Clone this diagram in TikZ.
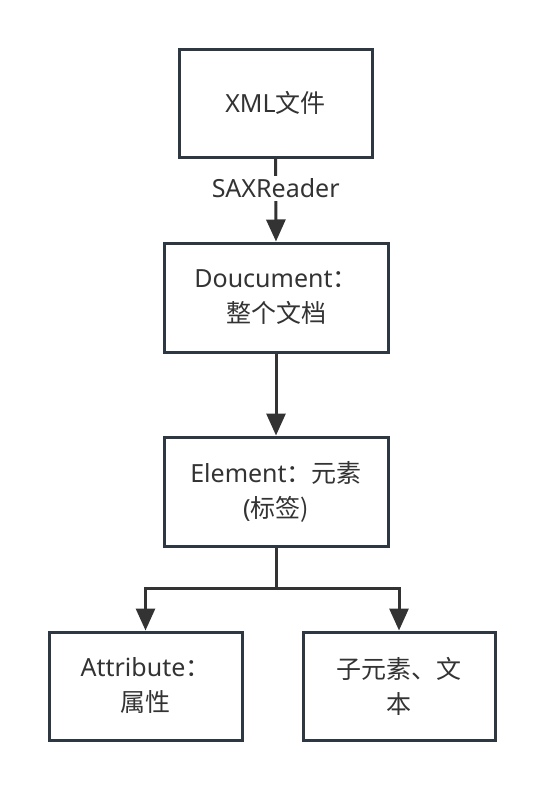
\documentclass[tikz,border=0pt]{standalone}
\usepackage{fontspec}
\setmainfont{Noto Sans}
\newfontfamily\cjk{Noto Sans CJK SC}
\usetikzlibrary{arrows.meta}
\definecolor{boxline}{HTML}{2E3842}
\definecolor{txt}{HTML}{333333}
\definecolor{arrcol}{HTML}{333333}
\tikzset{
  box/.style={draw=boxline, line width=3pt, rectangle, align=center, text=txt,
    font=\fontsize{25}{35}\selectfont, inner sep=0pt},
  conn/.style={draw=arrcol, line width=3pt},
  arr/.style={conn, -{Triangle[length=22pt,width=19pt]}},
  lbl/.style={fill=white, text=txt, font=\fontsize{25}{30}\selectfont, inner sep=3pt}
}
\begin{document}
\begin{tikzpicture}[x=1pt,y=-1pt]
\useasboundingbox (0,0) rectangle (545,790);
\node[box, minimum width=193pt, minimum height=108pt] (xml) at (275.5,103) {XML\cjk{文件}};
\node[box, minimum width=224pt, minimum height=109pt] (doc) at (276,297.5) {Doucument\cjk{：}\\\cjk{整个文档}};
\node[box, minimum width=224pt, minimum height=109pt] (ele) at (276,491.5) {Element\cjk{：元素}\\(\cjk{标签})};
\node[box, minimum width=193pt, minimum height=108pt] (att) at (145.5,686) {Attribute\cjk{：}\\\cjk{属性}};
\node[box, minimum width=192pt, minimum height=108pt] (sub) at (399,686) {\cjk{子元素、文}\\\cjk{本}};
\coordinate (split) at (276,588);
\draw[arr] (xml.south) -- node[lbl, pos=0.36] (sax) {SAXReader} (doc.north);
\draw[arr] (doc.south) -- (ele.north);
\draw[conn] (ele.south) -- (split);
\draw[arr] (split) -| (att.north);
\draw[arr] (split) -| (sub.north);
\end{tikzpicture}
\end{document}
